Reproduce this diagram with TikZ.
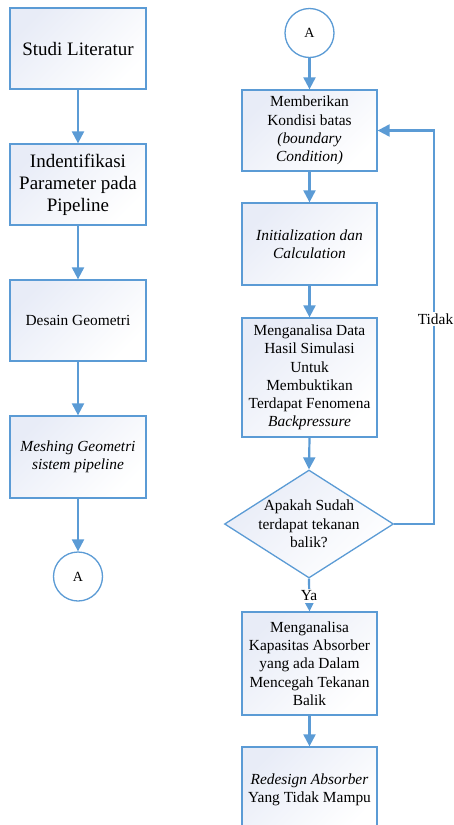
\documentclass[tikz,border=0pt]{standalone}
\usepackage{fontspec}
\setmainfont{Liberation Serif}
\usetikzlibrary{shapes.geometric,arrows.meta}
\definecolor{bl}{RGB}{91,155,213}
\definecolor{sh}{RGB}{232,236,247}
\begin{document}
\begin{tikzpicture}[x=1pt,y=-1pt,
  box/.style={draw=bl, line width=1.3pt, top color=sh, bottom color=white, shading angle=45,
    minimum width=136pt, inner sep=0pt, align=center, font=\fontsize{15.4}{18.3}\selectfont},
  big/.style={font=\fontsize{19}{22}\selectfont},
  conn/.style={circle, draw=bl, line width=1.3pt, fill=white, minimum size=49pt, inner sep=0pt,
    font=\fontsize{14}{16}\selectfont},
  arr/.style={draw=bl, line width=2.2pt, -{Triangle[width=12pt,length=12pt]}},
  lbl/.style={fill=white, inner sep=1.5pt, font=\fontsize{15.4}{18}\selectfont}]
\useasboundingbox (0,0) rectangle (454,825);
\clip (0,0) rectangle (454,825);
% left column
\node[box,big,minimum height=81pt] (b1) at (78,48.5) {Studi Literatur};
\node[box,big,minimum height=81pt] (b2) at (78,184.5) {Indentifikasi\\Parameter pada\\Pipeline};
\node[box,minimum height=81pt] (b3) at (78,320.5) {Desain Geometri};
\node[box,minimum height=82pt] (b4) at (78,457) {\textit{Meshing Geometri}\\\textit{sistem pipeline}};
\node[conn] (a1) at (78,576.5) {A};
% right column
\node[conn] (a2) at (309.5,33) {A};
\node[box,minimum width=135pt,minimum height=81pt] (r1) at (309.5,130.5) {Memberikan\\Kondisi batas\\\textit{(boundary}\\\textit{Condition)}};
\node[box,minimum width=135pt,minimum height=82pt] (r2) at (309.5,244) {\textit{Initialization dan}\\\textit{Calculation}};
\node[box,minimum width=135pt,minimum height=119pt] (r3) at (309.5,377.5) {Menganalisa Data\\Hasil Simulasi\\Untuk\\Membuktikan\\Terdapat Fenomena\\\textit{Backpressure}};
\node[diamond, draw=bl, line width=1.3pt, top color=sh, bottom color=white, shading angle=45,
  minimum width=169pt, minimum height=108pt, inner sep=0pt] (d) at (309,524) {};
\node[align=center, font=\fontsize{15.4}{18.3}\selectfont] (dt) at (d.center) {Apakah Sudah\\terdapat tekanan\\balik?};
\node[box,minimum width=135pt,minimum height=103pt] (r4) at (309.5,663.5) {Menganalisa\\Kapasitas Absorber\\yang ada Dalam\\Mencegah Tekanan\\Balik};
\node[box,minimum width=135pt,minimum height=86pt] (r5) at (309.5,790) {\textit{Redesign Absorber}\\Yang Tidak Mampu};
% connectors
\draw[arr] (b1.south) -- (b2.north);
\draw[arr] (b2.south) -- (b3.north);
\draw[arr] (b3.south) -- (b4.north);
\draw[arr] (b4.south) -- (a1.north);
\draw[arr] (a2.south) -- (r1.north);
\draw[arr] (r1.south) -- (r2.north);
\draw[arr] (r2.south) -- (r3.north);
\draw[arr] (r3.south) -- (d.north);
\draw[arr] (d.south) -- (r4.north);
\draw[arr] (r4.south) -- (r5.north);
\coordinate (fb) at (434,130.5);
\draw[arr] (d.east) -| (fb) -- (r1.east);
\node[lbl] (tidak) at (435.5,319) {Tidak};
\node[lbl] (ya) at (309,596) {Ya};
\end{tikzpicture}
\end{document}
